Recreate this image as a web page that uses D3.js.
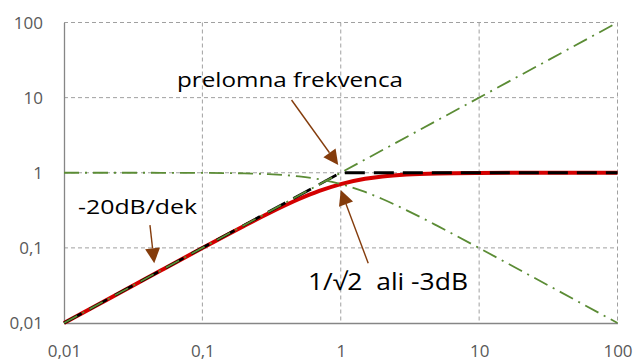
<!DOCTYPE html>
<html>
<head>
<meta charset="utf-8">
<script src="https://cdn.jsdelivr.net/npm/d3@7/dist/d3.min.js"></script>
<style>
  html, body { margin: 0; padding: 0; background: #fff; }
  svg { display: block; font-family: "Open Sans", sans-serif; }
</style>
</head>
<body>
<svg id="chart" width="637" height="360"></svg>
<script>
// Normalised frequency (omega / omega_c) on both axes, log-log
const freq      = [0.01, 0.02, 0.05, 0.1, 0.2, 0.3, 0.5, 0.7, 1, 1.5, 2, 3, 5, 10, 20, 50, 100];
// High-pass magnitude |H| (red)
const highPass  = [0.01, 0.02, 0.05, 0.0995, 0.196, 0.287, 0.447, 0.573, 0.707, 0.832, 0.894, 0.949, 0.981, 0.995, 0.999, 1, 1];
// Low-pass magnitude (green dash-dot, falling)
const lowPass   = [1, 1, 0.999, 0.995, 0.981, 0.958, 0.894, 0.819, 0.707, 0.555, 0.447, 0.316, 0.196, 0.0995, 0.05, 0.02, 0.01];
// Asymptote of the high-pass response (black dashed)
const asymX     = [0.01, 1, 100];
const asymY     = [0.01, 1, 1];
// Rising 20 dB/decade reference line (green dash-dot)
const slopeX    = [0.01, 100];
const slopeY    = [0.01, 100];
// Axis ticks
const xTicks    = [0.01, 0.1, 1, 10, 100];
const yTicks    = [0.01, 0.1, 1, 10, 100];
const tickLabel = ["0,01", "0,1", "1", "10", "100"];

const svg = d3.select("#chart");
const plotL = 64, plotR = 617.5, plotT = 22.5, plotB = 323;

const x = d3.scaleLog().domain([0.01, 100]).range([plotL, plotR]);
const y = d3.scaleLog().domain([0.01, 100]).range([plotB, plotT]);

// Grid
const grid = svg.append("g").attr("stroke", "#a0a0a0").attr("stroke-width", 1).attr("stroke-dasharray", "4,3");
xTicks.slice(1).forEach(t => grid.append("line")
  .attr("x1", x(t)).attr("x2", x(t)).attr("y1", plotT).attr("y2", plotB));
yTicks.slice(1).forEach(t => grid.append("line")
  .attr("x1", plotL).attr("x2", plotR).attr("y1", y(t)).attr("y2", y(t)));

// Axes (lines and labels)
const xAxis = d3.axisBottom(x).tickValues(xTicks).tickSize(0).tickFormat((d, i) => tickLabel[i]);
const yAxis = d3.axisLeft(y).tickValues(yTicks).tickSize(0).tickFormat((d, i) => tickLabel[i]);

const gx = svg.append("g").attr("transform", `translate(0,${plotB})`).call(xAxis);
const gy = svg.append("g").attr("transform", `translate(${plotL},0)`).call(yAxis);
[gx, gy].forEach(g => {
  g.select(".domain").attr("stroke", "#868686").attr("stroke-width", 1.3);
  g.selectAll("text").attr("fill", "#595959").style("font-size", "17px").style("font-family", "'Open Sans', sans-serif");
});
gx.selectAll("text").attr("dy", null).attr("y", 33.5);
gy.selectAll("text").attr("x", -21).attr("dy", "0.35em");

const line = d3.line().x(d => x(d[0])).y(d => y(d[1]));
const smooth = d3.line().x(d => x(d[0])).y(d => y(d[1])).curve(d3.curveMonotoneX);

// High-pass response
svg.append("path").datum(freq.map((f, i) => [f, highPass[i]]))
  .attr("d", smooth).attr("fill", "none").attr("stroke", "#d40000").attr("stroke-width", 4);

// Asymptote
svg.append("path").datum(asymX.map((f, i) => [f, asymY[i]]))
  .attr("d", line).attr("fill", "none").attr("stroke", "#000").attr("stroke-width", 2.8)
  .attr("stroke-dasharray", "20,9");

// Reference lines
const green = "#5b8c35";
svg.append("path").datum(slopeX.map((f, i) => [f, slopeY[i]]))
  .attr("d", line).attr("fill", "none").attr("stroke", green).attr("stroke-width", 1.8)
  .attr("stroke-dasharray", "15,6,2,6");
svg.append("path").datum(freq.map((f, i) => [f, lowPass[i]]))
  .attr("d", smooth).attr("fill", "none").attr("stroke", green).attr("stroke-width", 1.8)
  .attr("stroke-dasharray", "15,6,2,6");

// Annotation arrows, in data coordinates [from, to]
const arrows = [
  [[0.441, 9.3], [0.959, 1.27]],
  [[0.0418, 0.201], [0.0449, 0.0624]],
  [[1.58, 0.0624], [1.0, 0.589]]
];
const brown = "#843c0c";
arrows.forEach(([a, b]) => {
  const x1 = x(a[0]), y1 = y(a[1]), x2 = x(b[0]), y2 = y(b[1]);
  const dx = x2 - x1, dy = y2 - y1, len = Math.hypot(dx, dy);
  const ux = dx / len, uy = dy / len, hl = 15, hw = 7.5;
  const bx = x2 - ux * hl, by = y2 - uy * hl;
  svg.append("line").attr("x1", x1).attr("y1", y1).attr("x2", bx).attr("y2", by)
    .attr("stroke", brown).attr("stroke-width", 1.4);
  svg.append("path")
    .attr("d", `M${x2},${y2}L${bx - uy * hw},${by + ux * hw}L${bx + uy * hw},${by - ux * hw}Z`)
    .attr("fill", brown);
});

// Annotation labels
const notes = [
  { text: "prelomna frekvenca", x: 177, y: 86.5, size: 20, w: 226 },
  { text: "-20dB/dek", x: 78, y: 214.3, size: 20, w: 119 },
  { text: "1/\u221A2  ali -3dB", x: 308, y: 290, size: 24, w: 160 }
];
notes.forEach(n => svg.append("text")
  .attr("x", n.x).attr("y", n.y).attr("fill", "#000")
  .style("font-size", n.size + "px").style("white-space", "pre")
  .attr("textLength", n.w).attr("lengthAdjust", "spacingAndGlyphs")
  .text(n.text));
</script>
</body>
</html>
